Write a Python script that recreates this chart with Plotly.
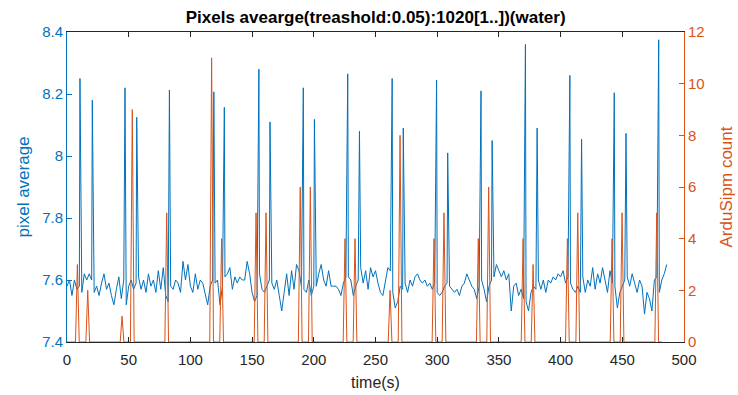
import numpy as np
import plotly.graph_objects as go

# ---- pixel average: background samples every 2 s ----
t_base = list(range(0, 488, 2))
pix_base = [
    7.58, 7.60, 7.55, 7.60, 7.57, 7.58, 7.56, 7.62, 7.60, 7.62,   # 0-18
    7.60, 7.56, 7.58, 7.55, 7.59, 7.62, 7.57, 7.59, 7.55, 7.52,   # 20-38
    7.57, 7.61, 7.54, 7.60, 7.52, 7.58, 7.60, 7.57, 7.59, 7.61,   # 40-58
    7.57, 7.60, 7.56, 7.62, 7.58, 7.60, 7.56, 7.63, 7.57, 7.64,   # 60-78
    7.55, 7.53, 7.58, 7.57, 7.60, 7.59, 7.56, 7.66, 7.60, 7.65,   # 80-98
    7.58, 7.56, 7.62, 7.57, 7.60, 7.59, 7.55, 7.52, 7.58, 7.60,   # 100-118
    7.59, 7.60, 7.52, 7.58, 7.61, 7.62, 7.64, 7.57, 7.61, 7.59,   # 120-138
    7.61, 7.60, 7.60, 7.66, 7.62, 7.56, 7.53, 7.55, 7.62, 7.57,   # 140-158
    7.56, 7.58, 7.60, 7.59, 7.57, 7.60, 7.55, 7.50, 7.56, 7.62,   # 160-178
    7.55, 7.63, 7.57, 7.65, 7.63, 7.58, 7.57, 7.56, 7.60, 7.55,   # 180-198
    7.58, 7.58, 7.62, 7.65, 7.60, 7.58, 7.63, 7.58, 7.58, 7.58,   # 200-218
    7.57, 7.55, 7.59, 7.61, 7.61, 7.60, 7.55, 7.58, 7.60, 7.64,   # 220-238
    7.59, 7.63, 7.57, 7.64, 7.61, 7.63, 7.59, 7.56, 7.55, 7.59,   # 240-258
    7.64, 7.63, 7.56, 7.51, 7.53, 7.58, 7.57, 7.59, 7.56, 7.60,   # 260-278
    7.58, 7.61, 7.62, 7.60, 7.59, 7.60, 7.58, 7.59, 7.57, 7.59,   # 280-298
    7.56, 7.55, 7.56, 7.58, 7.59, 7.58, 7.57, 7.56, 7.57, 7.55,   # 300-318
    7.58, 7.59, 7.62, 7.60, 7.58, 7.57, 7.54, 7.58, 7.60, 7.57,   # 320-338
    7.53, 7.58, 7.60, 7.61, 7.65, 7.63, 7.61, 7.63, 7.60, 7.62,   # 340-358
    7.50, 7.58, 7.59, 7.55, 7.57, 7.54, 7.53, 7.50, 7.56, 7.58,   # 360-378
    7.57, 7.60, 7.57, 7.60, 7.56, 7.60, 7.59, 7.61, 7.60, 7.62,   # 380-398
    7.61, 7.63, 7.59, 7.61, 7.59, 7.57, 7.56, 7.58, 7.56, 7.61,   # 400-418
    7.56, 7.60, 7.58, 7.64, 7.57, 7.62, 7.59, 7.64, 7.60, 7.56,   # 420-438
    7.63, 7.59, 7.58, 7.51, 7.56, 7.58, 7.60, 7.61, 7.58, 7.62,   # 440-458
    7.59, 7.56, 7.60, 7.58, 7.49, 7.56, 7.54, 7.50, 7.60, 7.61,   # 460-478
    7.56, 7.60, 7.62, 7.65,                                       # 480-486
]

# ---- pixel average: bright single-sample peaks ----
t_peak = [10.5, 20.5, 47.0, 56.5, 83.0, 119.0, 127.5, 155.5, 164.5, 191.5,
          200.5, 227.5, 237.0, 263.5, 272.5, 299.5, 308.5, 335.5, 344.5, 371.5,
          381.0, 407.5, 417.0, 443.5, 453.0, 479.5]
pix_peak = [8.25, 8.18, 8.22, 8.125, 8.213, 8.207, 8.157, 8.28, 8.11, 8.22,
            8.118, 8.265, 8.08, 8.25, 8.09, 8.245, 8.01, 8.21, 8.05, 8.36,
            8.09, 8.26, 8.054, 8.204, 8.073, 8.375]

# ---- ArduSipm counts (zero between events) ----
t_count = [0.0,
           6.9, 8.4, 9.9, 15.3, 16.8, 18.3, 43.1, 44.6, 46.1, 51.4, 52.9, 54.4,
           79.3, 80.8, 82.3, 115.7, 117.2, 118.7, 123.8, 125.3, 126.8,
           151.7, 153.2, 154.7, 159.8, 161.3, 162.8, 187.5, 189.0, 190.5,
           195.7, 197.2, 198.7, 223.8, 225.3, 226.8, 231.9, 233.4, 234.9,
           260.3, 261.8, 263.3, 268.4, 269.9, 271.4, 295.9, 297.4, 298.9,
           304.0, 305.5, 307.0, 331.8, 333.3, 334.8, 340.2, 341.7, 343.2,
           368.1, 369.6, 371.1, 376.2, 377.7, 379.2, 404.0, 405.5, 407.0,
           412.4, 413.9, 415.4, 440.2, 441.7, 443.2, 448.3, 449.8, 451.3,
           476.4, 477.9, 479.4,
           482.0]
counts = [0,
          0, 3, 0, 0, 2, 0, 0, 1, 0, 0, 9, 0,
          0, 5, 0, 0, 11, 0, 0, 4, 0,
          0, 5, 0, 0, 5, 0, 0, 6, 0,
          0, 6, 0, 0, 4, 0, 0, 4, 0,
          0, 2, 0, 0, 8, 0, 0, 4, 0,
          0, 5, 0, 0, 4, 0, 0, 6, 0,
          0, 4, 0, 0, 3, 0, 0, 4, 0,
          0, 5, 0, 0, 4, 0, 0, 5, 0,
          0, 5, 0,
          0]

# x ticks and left/right tick labels
x_ticks = list(range(0, 501, 50))
left_ticks = [7.4, 7.6, 7.8, 8.0, 8.2, 8.4]
left_labels = ["7.4", "7.6", "7.8", "8", "8.2", "8.4"]
right_ticks = [0, 2, 4, 6, 8, 10, 12]

# merge background samples and peaks into one time-ordered series
t_pix = np.array(t_base + t_peak, dtype=float)
v_pix = np.array(pix_base + pix_peak, dtype=float)
order = np.argsort(t_pix, kind="stable")
t_pix, v_pix = t_pix[order], v_pix[order]

BLUE = "#0072BD"
ORANGE = "#D95319"
DARK = "#262626"
FONT = "Liberation Sans, Arial, sans-serif"

fig = go.Figure()
fig.add_trace(go.Scatter(x=t_pix, y=v_pix, mode="lines",
                         line=dict(color=BLUE, width=1), yaxis="y",
                         showlegend=False, hoverinfo="skip"))
fig.add_trace(go.Scatter(x=t_count, y=counts, mode="lines",
                         line=dict(color=ORANGE, width=1), yaxis="y2",
                         showlegend=False, hoverinfo="skip"))

fig.update_layout(
    width=738, height=395,
    margin=dict(l=67, r=54, t=32, b=53, autoexpand=False),
    paper_bgcolor="white", plot_bgcolor="white",
    font=dict(family=FONT, size=15, color=DARK),
    title=dict(text="Pixels avearge(treashold:0.05):1020[1..])(water)",
               font=dict(family=FONT, size=17, color="#000000", weight="bold"),
               x=0.509, xanchor="center", xref="container",
               y=1 - 17 / 395, yanchor="middle", yref="container"),
    xaxis=dict(range=[0, 500], tickvals=x_ticks, ticks="inside", ticklen=5,
               tickcolor=DARK, showline=True, linecolor=DARK, linewidth=1,
               mirror="ticks", showgrid=False, zeroline=False,
               ticklabelstandoff=4,
               tickfont=dict(size=15, color=DARK),
               title=dict(text="time(s)", standoff=9,
                          font=dict(size=16, color=DARK))),
    yaxis=dict(range=[7.4, 8.4], tickvals=left_ticks, ticktext=left_labels,
               ticks="inside", ticklen=5, tickcolor=BLUE, showline=True,
               linecolor=BLUE, linewidth=1, showgrid=False, zeroline=False,
               tickfont=dict(size=15, color=BLUE),
               title=dict(text="pixel average", standoff=8,
                          font=dict(size=17, color=BLUE))),
    yaxis2=dict(range=[0, 12], tickvals=right_ticks, overlaying="y",
                side="right", ticks="inside", ticklen=5, tickcolor=ORANGE,
                showline=True, linecolor=ORANGE, linewidth=1, showgrid=False,
                zeroline=False, tickfont=dict(size=15, color=ORANGE),
                title=dict(text="ArduSipm count", standoff=16,
                           font=dict(size=17, color=ORANGE))),
)

fig.write_html("out.html")
